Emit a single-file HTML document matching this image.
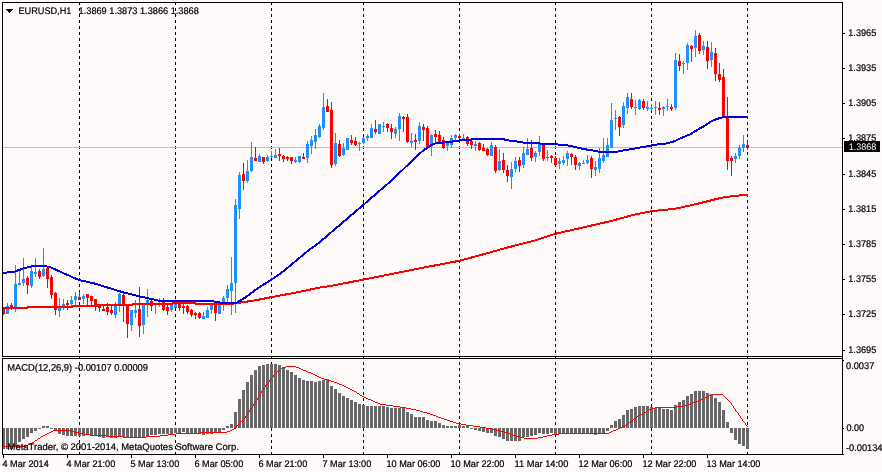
<!DOCTYPE html>
<html lang="en"><head><meta charset="utf-8"><title>EURUSD,H1</title>
<style>html,body{margin:0;padding:0;background:#FFFAFA;overflow:hidden}svg{display:block}text{font-family:"Liberation Sans",sans-serif;font-size:9.6px;fill:#000;stroke:#000;stroke-width:0.22px}</style></head><body>
<svg width="882" height="472" viewBox="0 0 882 472">
<rect x="0" y="0" width="882" height="472" fill="#FFFAFA"/>
<g shape-rendering="crispEdges" stroke="#000" stroke-width="1" stroke-dasharray="3 3">
<line x1="79.5" y1="2" x2="79.5" y2="455"/>
<line x1="175.5" y1="2" x2="175.5" y2="455"/>
<line x1="271.5" y1="2" x2="271.5" y2="455"/>
<line x1="363.5" y1="2" x2="363.5" y2="455"/>
<line x1="459.5" y1="2" x2="459.5" y2="455"/>
<line x1="555.5" y1="2" x2="555.5" y2="455"/>
<line x1="651.5" y1="2" x2="651.5" y2="455"/>
<line x1="747.5" y1="2" x2="747.5" y2="455"/>
</g>
<rect x="3" y="147" width="839" height="1" fill="#C0C0C0" shape-rendering="crispEdges"/>
<g shape-rendering="crispEdges">
<rect x="3" y="307" width="1" height="8" fill="#FF0000"/>
<rect x="2" y="307" width="3" height="7" fill="#FF0000"/>
<rect x="7" y="303" width="1" height="11" fill="#1E90FF"/>
<rect x="6" y="306" width="3" height="8" fill="#1E90FF"/>
<rect x="11" y="303" width="1" height="7" fill="#FF0000"/>
<rect x="10" y="305" width="3" height="4" fill="#FF0000"/>
<rect x="15" y="265" width="1" height="47" fill="#1E90FF"/>
<rect x="14" y="284" width="3" height="23" fill="#1E90FF"/>
<rect x="19" y="270" width="1" height="15" fill="#1E90FF"/>
<rect x="18" y="283" width="3" height="2" fill="#1E90FF"/>
<rect x="23" y="258" width="1" height="28" fill="#1E90FF"/>
<rect x="22" y="279" width="3" height="4" fill="#1E90FF"/>
<rect x="27" y="276" width="1" height="18" fill="#FF0000"/>
<rect x="26" y="278" width="3" height="7" fill="#FF0000"/>
<rect x="31" y="267" width="1" height="21" fill="#1E90FF"/>
<rect x="30" y="271" width="3" height="15" fill="#1E90FF"/>
<rect x="35" y="258" width="1" height="19" fill="#1E90FF"/>
<rect x="34" y="272" width="3" height="2" fill="#1E90FF"/>
<rect x="39" y="269" width="1" height="10" fill="#FF0000"/>
<rect x="38" y="271" width="3" height="6" fill="#FF0000"/>
<rect x="43" y="248" width="1" height="29" fill="#1E90FF"/>
<rect x="42" y="269" width="3" height="7" fill="#1E90FF"/>
<rect x="47" y="268" width="1" height="20" fill="#FF0000"/>
<rect x="46" y="268" width="3" height="11" fill="#FF0000"/>
<rect x="51" y="275" width="1" height="24" fill="#FF0000"/>
<rect x="50" y="277" width="3" height="18" fill="#FF0000"/>
<rect x="55" y="292" width="1" height="23" fill="#FF0000"/>
<rect x="54" y="293" width="3" height="17" fill="#FF0000"/>
<rect x="59" y="298" width="1" height="19" fill="#1E90FF"/>
<rect x="58" y="308" width="3" height="3" fill="#1E90FF"/>
<rect x="63" y="299" width="1" height="11" fill="#1E90FF"/>
<rect x="62" y="304" width="3" height="2" fill="#1E90FF"/>
<rect x="67" y="300" width="1" height="10" fill="#FF0000"/>
<rect x="66" y="303" width="3" height="2" fill="#FF0000"/>
<rect x="71" y="296" width="1" height="10" fill="#1E90FF"/>
<rect x="70" y="300" width="3" height="4" fill="#1E90FF"/>
<rect x="75" y="292" width="1" height="13" fill="#1E90FF"/>
<rect x="74" y="296" width="3" height="4" fill="#1E90FF"/>
<rect x="79" y="292" width="1" height="8" fill="#FF0000"/>
<rect x="78" y="297" width="3" height="3" fill="#FF0000"/>
<rect x="83" y="294" width="1" height="10" fill="#1E90FF"/>
<rect x="82" y="296" width="3" height="3" fill="#1E90FF"/>
<rect x="87" y="294" width="1" height="11" fill="#FF0000"/>
<rect x="86" y="294" width="3" height="4" fill="#FF0000"/>
<rect x="91" y="296" width="1" height="9" fill="#FF0000"/>
<rect x="90" y="296" width="3" height="5" fill="#FF0000"/>
<rect x="95" y="299" width="1" height="12" fill="#FF0000"/>
<rect x="94" y="299" width="3" height="8" fill="#FF0000"/>
<rect x="99" y="305" width="1" height="7" fill="#FF0000"/>
<rect x="98" y="306" width="3" height="2" fill="#FF0000"/>
<rect x="103" y="306" width="1" height="5" fill="#FF0000"/>
<rect x="102" y="309" width="3" height="2" fill="#FF0000"/>
<rect x="107" y="303" width="1" height="12" fill="#FF0000"/>
<rect x="106" y="307" width="3" height="5" fill="#FF0000"/>
<rect x="111" y="306" width="1" height="9" fill="#FF0000"/>
<rect x="110" y="310" width="3" height="3" fill="#FF0000"/>
<rect x="115" y="302" width="1" height="16" fill="#1E90FF"/>
<rect x="114" y="306" width="3" height="9" fill="#1E90FF"/>
<rect x="119" y="293" width="1" height="19" fill="#1E90FF"/>
<rect x="118" y="294" width="3" height="10" fill="#1E90FF"/>
<rect x="123" y="293" width="1" height="29" fill="#FF0000"/>
<rect x="122" y="295" width="3" height="10" fill="#FF0000"/>
<rect x="127" y="305" width="1" height="33" fill="#FF0000"/>
<rect x="126" y="305" width="3" height="19" fill="#FF0000"/>
<rect x="131" y="310" width="1" height="21" fill="#1E90FF"/>
<rect x="130" y="310" width="3" height="15" fill="#1E90FF"/>
<rect x="135" y="300" width="1" height="18" fill="#1E90FF"/>
<rect x="134" y="310" width="3" height="3" fill="#1E90FF"/>
<rect x="139" y="287" width="1" height="50" fill="#FF0000"/>
<rect x="138" y="309" width="3" height="17" fill="#FF0000"/>
<rect x="143" y="305" width="1" height="29" fill="#1E90FF"/>
<rect x="142" y="305" width="3" height="20" fill="#1E90FF"/>
<rect x="147" y="289" width="1" height="28" fill="#1E90FF"/>
<rect x="146" y="300" width="3" height="3" fill="#1E90FF"/>
<rect x="151" y="300" width="1" height="11" fill="#FF0000"/>
<rect x="150" y="301" width="3" height="5" fill="#FF0000"/>
<rect x="155" y="305" width="1" height="9" fill="#1E90FF"/>
<rect x="159" y="298" width="1" height="9" fill="#1E90FF"/>
<rect x="163" y="298" width="1" height="13" fill="#FF0000"/>
<rect x="162" y="302" width="3" height="8" fill="#FF0000"/>
<rect x="167" y="305" width="1" height="10" fill="#FF0000"/>
<rect x="166" y="307" width="3" height="4" fill="#FF0000"/>
<rect x="171" y="305" width="1" height="7" fill="#1E90FF"/>
<rect x="170" y="305" width="3" height="5" fill="#1E90FF"/>
<rect x="175" y="304" width="1" height="4" fill="#1E90FF"/>
<rect x="174" y="304" width="3" height="4" fill="#1E90FF"/>
<rect x="179" y="304" width="1" height="7" fill="#FF0000"/>
<rect x="178" y="304" width="3" height="4" fill="#FF0000"/>
<rect x="183" y="304" width="1" height="10" fill="#FF0000"/>
<rect x="182" y="306" width="3" height="2" fill="#FF0000"/>
<rect x="187" y="305" width="1" height="9" fill="#FF0000"/>
<rect x="186" y="306" width="3" height="6" fill="#FF0000"/>
<rect x="191" y="309" width="1" height="8" fill="#FF0000"/>
<rect x="190" y="310" width="3" height="5" fill="#FF0000"/>
<rect x="195" y="312" width="1" height="7" fill="#FF0000"/>
<rect x="194" y="313" width="3" height="2" fill="#FF0000"/>
<rect x="199" y="312" width="1" height="7" fill="#FF0000"/>
<rect x="198" y="313" width="3" height="5" fill="#FF0000"/>
<rect x="203" y="312" width="1" height="7" fill="#1E90FF"/>
<rect x="202" y="316" width="3" height="3" fill="#1E90FF"/>
<rect x="207" y="307" width="1" height="11" fill="#1E90FF"/>
<rect x="206" y="310" width="3" height="8" fill="#1E90FF"/>
<rect x="211" y="303" width="1" height="11" fill="#1E90FF"/>
<rect x="210" y="305" width="3" height="5" fill="#1E90FF"/>
<rect x="215" y="304" width="1" height="17" fill="#FF0000"/>
<rect x="214" y="304" width="3" height="9" fill="#FF0000"/>
<rect x="219" y="303" width="1" height="11" fill="#1E90FF"/>
<rect x="218" y="305" width="3" height="9" fill="#1E90FF"/>
<rect x="223" y="296" width="1" height="15" fill="#1E90FF"/>
<rect x="222" y="298" width="3" height="4" fill="#1E90FF"/>
<rect x="227" y="285" width="1" height="17" fill="#1E90FF"/>
<rect x="226" y="289" width="3" height="9" fill="#1E90FF"/>
<rect x="231" y="257" width="1" height="58" fill="#1E90FF"/>
<rect x="230" y="283" width="3" height="8" fill="#1E90FF"/>
<rect x="235" y="199" width="1" height="114" fill="#1E90FF"/>
<rect x="234" y="205" width="3" height="78" fill="#1E90FF"/>
<rect x="239" y="172" width="1" height="47" fill="#1E90FF"/>
<rect x="238" y="175" width="3" height="34" fill="#1E90FF"/>
<rect x="243" y="163" width="1" height="27" fill="#FF0000"/>
<rect x="242" y="174" width="3" height="7" fill="#FF0000"/>
<rect x="247" y="160" width="1" height="23" fill="#1E90FF"/>
<rect x="246" y="171" width="3" height="10" fill="#1E90FF"/>
<rect x="251" y="142" width="1" height="30" fill="#1E90FF"/>
<rect x="250" y="157" width="3" height="14" fill="#1E90FF"/>
<rect x="255" y="147" width="1" height="14" fill="#FF0000"/>
<rect x="254" y="158" width="3" height="3" fill="#FF0000"/>
<rect x="259" y="154" width="1" height="8" fill="#1E90FF"/>
<rect x="258" y="156" width="3" height="6" fill="#1E90FF"/>
<rect x="263" y="157" width="1" height="7" fill="#FF0000"/>
<rect x="262" y="157" width="3" height="5" fill="#FF0000"/>
<rect x="267" y="155" width="1" height="7" fill="#1E90FF"/>
<rect x="266" y="157" width="3" height="4" fill="#1E90FF"/>
<rect x="271" y="151" width="1" height="7" fill="#1E90FF"/>
<rect x="270" y="156" width="3" height="1" fill="#1E90FF"/>
<rect x="275" y="149" width="1" height="9" fill="#1E90FF"/>
<rect x="274" y="155" width="3" height="3" fill="#1E90FF"/>
<rect x="279" y="148" width="1" height="13" fill="#FF0000"/>
<rect x="278" y="154" width="3" height="2" fill="#FF0000"/>
<rect x="283" y="155" width="1" height="7" fill="#FF0000"/>
<rect x="282" y="156" width="3" height="3" fill="#FF0000"/>
<rect x="287" y="156" width="1" height="5" fill="#FF0000"/>
<rect x="286" y="157" width="3" height="2" fill="#FF0000"/>
<rect x="291" y="157" width="1" height="7" fill="#FF0000"/>
<rect x="290" y="157" width="3" height="4" fill="#FF0000"/>
<rect x="295" y="157" width="1" height="6" fill="#1E90FF"/>
<rect x="294" y="160" width="3" height="2" fill="#1E90FF"/>
<rect x="299" y="156" width="1" height="7" fill="#1E90FF"/>
<rect x="298" y="156" width="3" height="6" fill="#1E90FF"/>
<rect x="303" y="153" width="1" height="6" fill="#FF0000"/>
<rect x="302" y="157" width="3" height="2" fill="#FF0000"/>
<rect x="307" y="141" width="1" height="22" fill="#1E90FF"/>
<rect x="306" y="144" width="3" height="14" fill="#1E90FF"/>
<rect x="311" y="136" width="1" height="18" fill="#1E90FF"/>
<rect x="310" y="140" width="3" height="6" fill="#1E90FF"/>
<rect x="315" y="129" width="1" height="20" fill="#1E90FF"/>
<rect x="314" y="135" width="3" height="7" fill="#1E90FF"/>
<rect x="319" y="124" width="1" height="14" fill="#1E90FF"/>
<rect x="318" y="126" width="3" height="11" fill="#1E90FF"/>
<rect x="323" y="93" width="1" height="37" fill="#1E90FF"/>
<rect x="322" y="107" width="3" height="21" fill="#1E90FF"/>
<rect x="327" y="99" width="1" height="13" fill="#FF0000"/>
<rect x="326" y="106" width="3" height="6" fill="#FF0000"/>
<rect x="331" y="102" width="1" height="66" fill="#FF0000"/>
<rect x="330" y="110" width="3" height="55" fill="#FF0000"/>
<rect x="335" y="133" width="1" height="33" fill="#1E90FF"/>
<rect x="334" y="143" width="3" height="21" fill="#1E90FF"/>
<rect x="339" y="140" width="1" height="17" fill="#FF0000"/>
<rect x="338" y="144" width="3" height="12" fill="#FF0000"/>
<rect x="343" y="143" width="1" height="13" fill="#1E90FF"/>
<rect x="342" y="148" width="3" height="7" fill="#1E90FF"/>
<rect x="347" y="138" width="1" height="12" fill="#1E90FF"/>
<rect x="346" y="138" width="3" height="12" fill="#1E90FF"/>
<rect x="351" y="135" width="1" height="10" fill="#FF0000"/>
<rect x="350" y="140" width="3" height="3" fill="#FF0000"/>
<rect x="355" y="137" width="1" height="9" fill="#FF0000"/>
<rect x="354" y="141" width="3" height="4" fill="#FF0000"/>
<rect x="359" y="142" width="1" height="9" fill="#1E90FF"/>
<rect x="358" y="143" width="3" height="1" fill="#1E90FF"/>
<rect x="363" y="137" width="1" height="7" fill="#1E90FF"/>
<rect x="362" y="138" width="3" height="5" fill="#1E90FF"/>
<rect x="367" y="134" width="1" height="7" fill="#1E90FF"/>
<rect x="366" y="136" width="3" height="2" fill="#1E90FF"/>
<rect x="371" y="124" width="1" height="14" fill="#1E90FF"/>
<rect x="370" y="128" width="3" height="10" fill="#1E90FF"/>
<rect x="375" y="120" width="1" height="14" fill="#FF0000"/>
<rect x="374" y="129" width="3" height="3" fill="#FF0000"/>
<rect x="379" y="124" width="1" height="10" fill="#1E90FF"/>
<rect x="378" y="124" width="3" height="10" fill="#1E90FF"/>
<rect x="383" y="122" width="1" height="10" fill="#1E90FF"/>
<rect x="382" y="126" width="3" height="1" fill="#1E90FF"/>
<rect x="387" y="123" width="1" height="9" fill="#FF0000"/>
<rect x="386" y="124" width="3" height="4" fill="#FF0000"/>
<rect x="391" y="124" width="1" height="15" fill="#FF0000"/>
<rect x="390" y="128" width="3" height="4" fill="#FF0000"/>
<rect x="395" y="127" width="1" height="11" fill="#1E90FF"/>
<rect x="394" y="129" width="3" height="5" fill="#1E90FF"/>
<rect x="399" y="113" width="1" height="28" fill="#1E90FF"/>
<rect x="398" y="116" width="3" height="13" fill="#1E90FF"/>
<rect x="403" y="116" width="1" height="16" fill="#FF0000"/>
<rect x="402" y="117" width="3" height="2" fill="#FF0000"/>
<rect x="407" y="114" width="1" height="29" fill="#FF0000"/>
<rect x="406" y="117" width="3" height="25" fill="#FF0000"/>
<rect x="411" y="133" width="1" height="14" fill="#1E90FF"/>
<rect x="410" y="141" width="3" height="2" fill="#1E90FF"/>
<rect x="415" y="134" width="1" height="16" fill="#FF0000"/>
<rect x="414" y="140" width="3" height="2" fill="#FF0000"/>
<rect x="419" y="122" width="1" height="22" fill="#1E90FF"/>
<rect x="418" y="126" width="3" height="15" fill="#1E90FF"/>
<rect x="423" y="124" width="1" height="17" fill="#FF0000"/>
<rect x="422" y="127" width="3" height="3" fill="#FF0000"/>
<rect x="427" y="126" width="1" height="22" fill="#FF0000"/>
<rect x="426" y="128" width="3" height="20" fill="#FF0000"/>
<rect x="431" y="134" width="1" height="22" fill="#1E90FF"/>
<rect x="430" y="135" width="3" height="9" fill="#1E90FF"/>
<rect x="435" y="130" width="1" height="12" fill="#FF0000"/>
<rect x="434" y="134" width="3" height="3" fill="#FF0000"/>
<rect x="439" y="131" width="1" height="11" fill="#FF0000"/>
<rect x="438" y="135" width="3" height="7" fill="#FF0000"/>
<rect x="443" y="137" width="1" height="12" fill="#FF0000"/>
<rect x="442" y="140" width="3" height="8" fill="#FF0000"/>
<rect x="447" y="142" width="1" height="9" fill="#1E90FF"/>
<rect x="446" y="143" width="3" height="3" fill="#1E90FF"/>
<rect x="451" y="135" width="1" height="13" fill="#1E90FF"/>
<rect x="450" y="138" width="3" height="7" fill="#1E90FF"/>
<rect x="455" y="134" width="1" height="6" fill="#1E90FF"/>
<rect x="454" y="135" width="3" height="3" fill="#1E90FF"/>
<rect x="459" y="134" width="1" height="6" fill="#FF0000"/>
<rect x="458" y="136" width="3" height="2" fill="#FF0000"/>
<rect x="463" y="134" width="1" height="6" fill="#1E90FF"/>
<rect x="462" y="138" width="3" height="1" fill="#1E90FF"/>
<rect x="467" y="136" width="1" height="10" fill="#FF0000"/>
<rect x="466" y="137" width="3" height="7" fill="#FF0000"/>
<rect x="471" y="141" width="1" height="8" fill="#FF0000"/>
<rect x="470" y="141" width="3" height="4" fill="#FF0000"/>
<rect x="475" y="141" width="1" height="10" fill="#1E90FF"/>
<rect x="474" y="144" width="3" height="2" fill="#1E90FF"/>
<rect x="479" y="142" width="1" height="9" fill="#FF0000"/>
<rect x="478" y="143" width="3" height="7" fill="#FF0000"/>
<rect x="483" y="144" width="1" height="7" fill="#FF0000"/>
<rect x="482" y="148" width="3" height="3" fill="#FF0000"/>
<rect x="487" y="148" width="1" height="8" fill="#FF0000"/>
<rect x="486" y="149" width="3" height="6" fill="#FF0000"/>
<rect x="491" y="142" width="1" height="14" fill="#1E90FF"/>
<rect x="490" y="145" width="3" height="11" fill="#1E90FF"/>
<rect x="495" y="145" width="1" height="28" fill="#FF0000"/>
<rect x="494" y="147" width="3" height="24" fill="#FF0000"/>
<rect x="499" y="149" width="1" height="22" fill="#1E90FF"/>
<rect x="498" y="161" width="3" height="9" fill="#1E90FF"/>
<rect x="503" y="153" width="1" height="20" fill="#FF0000"/>
<rect x="502" y="160" width="3" height="10" fill="#FF0000"/>
<rect x="507" y="165" width="1" height="17" fill="#FF0000"/>
<rect x="506" y="170" width="3" height="6" fill="#FF0000"/>
<rect x="511" y="162" width="1" height="27" fill="#1E90FF"/>
<rect x="510" y="169" width="3" height="8" fill="#1E90FF"/>
<rect x="515" y="157" width="1" height="15" fill="#1E90FF"/>
<rect x="514" y="161" width="3" height="8" fill="#1E90FF"/>
<rect x="519" y="157" width="1" height="15" fill="#FF0000"/>
<rect x="518" y="160" width="3" height="6" fill="#FF0000"/>
<rect x="523" y="147" width="1" height="21" fill="#1E90FF"/>
<rect x="522" y="153" width="3" height="12" fill="#1E90FF"/>
<rect x="527" y="138" width="1" height="17" fill="#1E90FF"/>
<rect x="526" y="149" width="3" height="6" fill="#1E90FF"/>
<rect x="531" y="140" width="1" height="21" fill="#FF0000"/>
<rect x="530" y="148" width="3" height="10" fill="#FF0000"/>
<rect x="535" y="151" width="1" height="11" fill="#1E90FF"/>
<rect x="534" y="153" width="3" height="4" fill="#1E90FF"/>
<rect x="539" y="136" width="1" height="20" fill="#1E90FF"/>
<rect x="538" y="144" width="3" height="8" fill="#1E90FF"/>
<rect x="543" y="144" width="1" height="17" fill="#FF0000"/>
<rect x="542" y="144" width="3" height="15" fill="#FF0000"/>
<rect x="547" y="150" width="1" height="11" fill="#1E90FF"/>
<rect x="546" y="157" width="3" height="1" fill="#1E90FF"/>
<rect x="551" y="155" width="1" height="8" fill="#FF0000"/>
<rect x="550" y="156" width="3" height="2" fill="#FF0000"/>
<rect x="555" y="156" width="1" height="10" fill="#FF0000"/>
<rect x="554" y="158" width="3" height="7" fill="#FF0000"/>
<rect x="559" y="158" width="1" height="11" fill="#1E90FF"/>
<rect x="558" y="161" width="3" height="3" fill="#1E90FF"/>
<rect x="563" y="156" width="1" height="9" fill="#1E90FF"/>
<rect x="562" y="160" width="3" height="3" fill="#1E90FF"/>
<rect x="567" y="151" width="1" height="15" fill="#1E90FF"/>
<rect x="566" y="153" width="3" height="6" fill="#1E90FF"/>
<rect x="571" y="153" width="1" height="12" fill="#FF0000"/>
<rect x="570" y="154" width="3" height="3" fill="#FF0000"/>
<rect x="575" y="155" width="1" height="15" fill="#FF0000"/>
<rect x="574" y="157" width="3" height="8" fill="#FF0000"/>
<rect x="579" y="162" width="1" height="8" fill="#1E90FF"/>
<rect x="578" y="163" width="3" height="3" fill="#1E90FF"/>
<rect x="583" y="160" width="1" height="4" fill="#1E90FF"/>
<rect x="582" y="163" width="3" height="1" fill="#1E90FF"/>
<rect x="587" y="155" width="1" height="9" fill="#1E90FF"/>
<rect x="586" y="160" width="3" height="3" fill="#1E90FF"/>
<rect x="591" y="156" width="1" height="22" fill="#FF0000"/>
<rect x="590" y="158" width="3" height="11" fill="#FF0000"/>
<rect x="595" y="161" width="1" height="15" fill="#1E90FF"/>
<rect x="594" y="167" width="3" height="3" fill="#1E90FF"/>
<rect x="599" y="148" width="1" height="25" fill="#1E90FF"/>
<rect x="598" y="158" width="3" height="11" fill="#1E90FF"/>
<rect x="603" y="138" width="1" height="25" fill="#1E90FF"/>
<rect x="602" y="155" width="3" height="6" fill="#1E90FF"/>
<rect x="607" y="138" width="1" height="19" fill="#1E90FF"/>
<rect x="606" y="145" width="3" height="12" fill="#1E90FF"/>
<rect x="611" y="103" width="1" height="45" fill="#1E90FF"/>
<rect x="610" y="120" width="3" height="28" fill="#1E90FF"/>
<rect x="615" y="110" width="1" height="20" fill="#1E90FF"/>
<rect x="614" y="118" width="3" height="1" fill="#1E90FF"/>
<rect x="619" y="116" width="1" height="20" fill="#FF0000"/>
<rect x="618" y="117" width="3" height="10" fill="#FF0000"/>
<rect x="623" y="102" width="1" height="26" fill="#1E90FF"/>
<rect x="622" y="106" width="3" height="19" fill="#1E90FF"/>
<rect x="627" y="93" width="1" height="21" fill="#1E90FF"/>
<rect x="626" y="97" width="3" height="11" fill="#1E90FF"/>
<rect x="631" y="93" width="1" height="16" fill="#FF0000"/>
<rect x="630" y="99" width="3" height="8" fill="#FF0000"/>
<rect x="635" y="100" width="1" height="15" fill="#1E90FF"/>
<rect x="634" y="107" width="3" height="1" fill="#1E90FF"/>
<rect x="639" y="99" width="1" height="11" fill="#1E90FF"/>
<rect x="638" y="100" width="3" height="9" fill="#1E90FF"/>
<rect x="643" y="99" width="1" height="11" fill="#FF0000"/>
<rect x="642" y="101" width="3" height="7" fill="#FF0000"/>
<rect x="647" y="101" width="1" height="10" fill="#1E90FF"/>
<rect x="646" y="107" width="3" height="2" fill="#1E90FF"/>
<rect x="651" y="104" width="1" height="7" fill="#1E90FF"/>
<rect x="650" y="108" width="3" height="1" fill="#1E90FF"/>
<rect x="655" y="101" width="1" height="14" fill="#1E90FF"/>
<rect x="654" y="107" width="3" height="1" fill="#1E90FF"/>
<rect x="659" y="102" width="1" height="13" fill="#FF0000"/>
<rect x="658" y="108" width="3" height="2" fill="#FF0000"/>
<rect x="663" y="106" width="1" height="10" fill="#1E90FF"/>
<rect x="662" y="107" width="3" height="2" fill="#1E90FF"/>
<rect x="667" y="99" width="1" height="12" fill="#1E90FF"/>
<rect x="666" y="106" width="3" height="1" fill="#1E90FF"/>
<rect x="671" y="104" width="1" height="7" fill="#FF0000"/>
<rect x="670" y="107" width="3" height="2" fill="#FF0000"/>
<rect x="675" y="53" width="1" height="57" fill="#1E90FF"/>
<rect x="674" y="60" width="3" height="48" fill="#1E90FF"/>
<rect x="679" y="54" width="1" height="17" fill="#FF0000"/>
<rect x="678" y="61" width="3" height="5" fill="#FF0000"/>
<rect x="683" y="61" width="1" height="13" fill="#1E90FF"/>
<rect x="682" y="63" width="3" height="1" fill="#1E90FF"/>
<rect x="687" y="43" width="1" height="27" fill="#1E90FF"/>
<rect x="686" y="45" width="3" height="18" fill="#1E90FF"/>
<rect x="691" y="45" width="1" height="17" fill="#FF0000"/>
<rect x="690" y="46" width="3" height="3" fill="#FF0000"/>
<rect x="695" y="30" width="1" height="27" fill="#1E90FF"/>
<rect x="694" y="36" width="3" height="12" fill="#1E90FF"/>
<rect x="699" y="33" width="1" height="21" fill="#FF0000"/>
<rect x="698" y="35" width="3" height="16" fill="#FF0000"/>
<rect x="703" y="41" width="1" height="14" fill="#1E90FF"/>
<rect x="702" y="46" width="3" height="4" fill="#1E90FF"/>
<rect x="707" y="41" width="1" height="28" fill="#FF0000"/>
<rect x="706" y="47" width="3" height="14" fill="#FF0000"/>
<rect x="711" y="42" width="1" height="25" fill="#1E90FF"/>
<rect x="710" y="52" width="3" height="8" fill="#1E90FF"/>
<rect x="715" y="48" width="1" height="33" fill="#FF0000"/>
<rect x="714" y="53" width="3" height="21" fill="#FF0000"/>
<rect x="719" y="63" width="1" height="19" fill="#FF0000"/>
<rect x="718" y="74" width="3" height="6" fill="#FF0000"/>
<rect x="723" y="69" width="1" height="49" fill="#FF0000"/>
<rect x="722" y="77" width="3" height="40" fill="#FF0000"/>
<rect x="727" y="97" width="1" height="73" fill="#FF0000"/>
<rect x="726" y="117" width="3" height="44" fill="#FF0000"/>
<rect x="731" y="156" width="1" height="20" fill="#FF0000"/>
<rect x="730" y="158" width="3" height="3" fill="#FF0000"/>
<rect x="735" y="153" width="1" height="10" fill="#1E90FF"/>
<rect x="734" y="156" width="3" height="3" fill="#1E90FF"/>
<rect x="739" y="145" width="1" height="14" fill="#1E90FF"/>
<rect x="738" y="148" width="3" height="8" fill="#1E90FF"/>
<rect x="743" y="135" width="1" height="17" fill="#1E90FF"/>
<rect x="742" y="144" width="3" height="4" fill="#1E90FF"/>
<rect x="747" y="141" width="1" height="9" fill="#FF0000"/>
<rect x="746" y="145" width="3" height="3" fill="#FF0000"/>
</g>
<g shape-rendering="crispEdges" fill="#696969">
<rect x="2" y="428" width="3" height="21"/>
<rect x="6" y="428" width="3" height="21"/>
<rect x="10" y="428" width="3" height="21"/>
<rect x="14" y="428" width="3" height="19"/>
<rect x="18" y="428" width="3" height="14"/>
<rect x="22" y="428" width="3" height="11"/>
<rect x="26" y="428" width="3" height="9"/>
<rect x="30" y="428" width="3" height="5"/>
<rect x="34" y="428" width="3" height="3"/>
<rect x="38" y="428" width="3" height="1"/>
<rect x="42" y="426" width="3" height="2"/>
<rect x="46" y="426" width="3" height="2"/>
<rect x="50" y="428" width="3" height="1"/>
<rect x="54" y="428" width="3" height="3"/>
<rect x="58" y="428" width="3" height="6"/>
<rect x="62" y="428" width="3" height="7"/>
<rect x="66" y="428" width="3" height="8"/>
<rect x="70" y="428" width="3" height="8"/>
<rect x="74" y="428" width="3" height="8"/>
<rect x="78" y="428" width="3" height="8"/>
<rect x="82" y="428" width="3" height="8"/>
<rect x="86" y="428" width="3" height="7"/>
<rect x="90" y="428" width="3" height="8"/>
<rect x="94" y="428" width="3" height="8"/>
<rect x="98" y="428" width="3" height="9"/>
<rect x="102" y="428" width="3" height="10"/>
<rect x="106" y="428" width="3" height="9"/>
<rect x="110" y="428" width="3" height="10"/>
<rect x="114" y="428" width="3" height="10"/>
<rect x="118" y="428" width="3" height="9"/>
<rect x="122" y="428" width="3" height="9"/>
<rect x="126" y="428" width="3" height="10"/>
<rect x="130" y="428" width="3" height="10"/>
<rect x="134" y="428" width="3" height="10"/>
<rect x="138" y="428" width="3" height="10"/>
<rect x="142" y="428" width="3" height="10"/>
<rect x="146" y="428" width="3" height="8"/>
<rect x="150" y="428" width="3" height="7"/>
<rect x="154" y="428" width="3" height="7"/>
<rect x="158" y="428" width="3" height="6"/>
<rect x="162" y="428" width="3" height="6"/>
<rect x="166" y="428" width="3" height="6"/>
<rect x="170" y="428" width="3" height="6"/>
<rect x="174" y="428" width="3" height="5"/>
<rect x="178" y="428" width="3" height="5"/>
<rect x="182" y="428" width="3" height="4"/>
<rect x="186" y="428" width="3" height="5"/>
<rect x="190" y="428" width="3" height="5"/>
<rect x="194" y="428" width="3" height="6"/>
<rect x="198" y="428" width="3" height="6"/>
<rect x="202" y="428" width="3" height="7"/>
<rect x="206" y="428" width="3" height="6"/>
<rect x="210" y="428" width="3" height="6"/>
<rect x="214" y="428" width="3" height="5"/>
<rect x="218" y="428" width="3" height="4"/>
<rect x="222" y="428" width="3" height="2"/>
<rect x="226" y="426" width="3" height="2"/>
<rect x="230" y="424" width="3" height="4"/>
<rect x="234" y="412" width="3" height="16"/>
<rect x="238" y="399" width="3" height="29"/>
<rect x="242" y="390" width="3" height="38"/>
<rect x="246" y="382" width="3" height="46"/>
<rect x="250" y="375" width="3" height="53"/>
<rect x="254" y="370" width="3" height="58"/>
<rect x="258" y="366" width="3" height="62"/>
<rect x="262" y="365" width="3" height="63"/>
<rect x="266" y="364" width="3" height="64"/>
<rect x="270" y="364" width="3" height="64"/>
<rect x="274" y="364" width="3" height="64"/>
<rect x="278" y="365" width="3" height="63"/>
<rect x="282" y="367" width="3" height="61"/>
<rect x="286" y="370" width="3" height="58"/>
<rect x="290" y="372" width="3" height="56"/>
<rect x="294" y="375" width="3" height="53"/>
<rect x="298" y="378" width="3" height="50"/>
<rect x="302" y="380" width="3" height="48"/>
<rect x="306" y="381" width="3" height="47"/>
<rect x="310" y="381" width="3" height="47"/>
<rect x="314" y="382" width="3" height="46"/>
<rect x="318" y="381" width="3" height="47"/>
<rect x="322" y="380" width="3" height="48"/>
<rect x="326" y="379" width="3" height="49"/>
<rect x="330" y="386" width="3" height="42"/>
<rect x="334" y="389" width="3" height="39"/>
<rect x="338" y="393" width="3" height="35"/>
<rect x="342" y="396" width="3" height="32"/>
<rect x="346" y="398" width="3" height="30"/>
<rect x="350" y="400" width="3" height="28"/>
<rect x="354" y="402" width="3" height="26"/>
<rect x="358" y="404" width="3" height="24"/>
<rect x="362" y="405" width="3" height="23"/>
<rect x="366" y="406" width="3" height="22"/>
<rect x="370" y="406" width="3" height="22"/>
<rect x="374" y="406" width="3" height="22"/>
<rect x="378" y="406" width="3" height="22"/>
<rect x="382" y="406" width="3" height="22"/>
<rect x="386" y="407" width="3" height="21"/>
<rect x="390" y="408" width="3" height="20"/>
<rect x="394" y="408" width="3" height="20"/>
<rect x="398" y="408" width="3" height="20"/>
<rect x="402" y="408" width="3" height="20"/>
<rect x="406" y="412" width="3" height="16"/>
<rect x="410" y="414" width="3" height="14"/>
<rect x="414" y="417" width="3" height="11"/>
<rect x="418" y="417" width="3" height="11"/>
<rect x="422" y="417" width="3" height="11"/>
<rect x="426" y="420" width="3" height="8"/>
<rect x="430" y="421" width="3" height="7"/>
<rect x="434" y="421" width="3" height="7"/>
<rect x="438" y="423" width="3" height="5"/>
<rect x="442" y="425" width="3" height="3"/>
<rect x="446" y="426" width="3" height="2"/>
<rect x="450" y="426" width="3" height="2"/>
<rect x="454" y="426" width="3" height="2"/>
<rect x="458" y="425" width="3" height="3"/>
<rect x="462" y="426" width="3" height="2"/>
<rect x="466" y="426" width="3" height="2"/>
<rect x="470" y="428" width="3" height="1"/>
<rect x="474" y="428" width="3" height="2"/>
<rect x="478" y="428" width="3" height="3"/>
<rect x="482" y="428" width="3" height="4"/>
<rect x="486" y="428" width="3" height="5"/>
<rect x="490" y="428" width="3" height="5"/>
<rect x="494" y="428" width="3" height="8"/>
<rect x="498" y="428" width="3" height="9"/>
<rect x="502" y="428" width="3" height="11"/>
<rect x="506" y="428" width="3" height="13"/>
<rect x="510" y="428" width="3" height="13"/>
<rect x="514" y="428" width="3" height="13"/>
<rect x="518" y="428" width="3" height="13"/>
<rect x="522" y="428" width="3" height="9"/>
<rect x="526" y="428" width="3" height="9"/>
<rect x="530" y="428" width="3" height="8"/>
<rect x="534" y="428" width="3" height="7"/>
<rect x="538" y="428" width="3" height="5"/>
<rect x="542" y="428" width="3" height="6"/>
<rect x="546" y="428" width="3" height="6"/>
<rect x="550" y="428" width="3" height="5"/>
<rect x="554" y="428" width="3" height="6"/>
<rect x="558" y="428" width="3" height="6"/>
<rect x="562" y="428" width="3" height="6"/>
<rect x="566" y="428" width="3" height="5"/>
<rect x="570" y="428" width="3" height="5"/>
<rect x="574" y="428" width="3" height="5"/>
<rect x="578" y="428" width="3" height="6"/>
<rect x="582" y="428" width="3" height="6"/>
<rect x="586" y="428" width="3" height="6"/>
<rect x="590" y="428" width="3" height="6"/>
<rect x="594" y="428" width="3" height="7"/>
<rect x="598" y="428" width="3" height="6"/>
<rect x="602" y="428" width="3" height="5"/>
<rect x="606" y="428" width="3" height="3"/>
<rect x="610" y="425" width="3" height="3"/>
<rect x="614" y="421" width="3" height="7"/>
<rect x="618" y="419" width="3" height="9"/>
<rect x="622" y="415" width="3" height="13"/>
<rect x="626" y="410" width="3" height="18"/>
<rect x="630" y="409" width="3" height="19"/>
<rect x="634" y="407" width="3" height="21"/>
<rect x="638" y="406" width="3" height="22"/>
<rect x="642" y="406" width="3" height="22"/>
<rect x="646" y="406" width="3" height="22"/>
<rect x="650" y="407" width="3" height="21"/>
<rect x="654" y="408" width="3" height="20"/>
<rect x="658" y="408" width="3" height="20"/>
<rect x="662" y="409" width="3" height="19"/>
<rect x="666" y="409" width="3" height="19"/>
<rect x="670" y="410" width="3" height="18"/>
<rect x="674" y="405" width="3" height="23"/>
<rect x="678" y="402" width="3" height="26"/>
<rect x="682" y="400" width="3" height="28"/>
<rect x="686" y="396" width="3" height="32"/>
<rect x="690" y="394" width="3" height="34"/>
<rect x="694" y="391" width="3" height="37"/>
<rect x="698" y="391" width="3" height="37"/>
<rect x="702" y="391" width="3" height="37"/>
<rect x="706" y="393" width="3" height="35"/>
<rect x="710" y="394" width="3" height="34"/>
<rect x="714" y="398" width="3" height="30"/>
<rect x="718" y="402" width="3" height="26"/>
<rect x="722" y="410" width="3" height="18"/>
<rect x="726" y="422" width="3" height="6"/>
<rect x="730" y="428" width="3" height="5"/>
<rect x="734" y="428" width="3" height="12"/>
<rect x="738" y="428" width="3" height="16"/>
<rect x="742" y="428" width="3" height="18"/>
<rect x="746" y="428" width="3" height="21"/>
</g>
<g shape-rendering="crispEdges" fill="#FF0000"><rect x="3" y="446" width="23" height="1"/><rect x="26" y="445" width="2" height="1"/><rect x="28" y="444" width="2" height="1"/><rect x="30" y="443" width="2" height="1"/><rect x="32" y="442" width="2" height="1"/><rect x="34" y="441" width="1" height="1"/><rect x="35" y="440" width="2" height="1"/><rect x="37" y="439" width="1" height="1"/><rect x="38" y="438" width="2" height="1"/><rect x="40" y="437" width="1" height="1"/><rect x="41" y="436" width="2" height="1"/><rect x="43" y="435" width="2" height="1"/><rect x="45" y="434" width="2" height="1"/><rect x="47" y="433" width="2" height="1"/><rect x="49" y="432" width="2" height="1"/><rect x="51" y="431" width="2" height="1"/><rect x="53" y="430" width="17" height="1"/><rect x="70" y="431" width="4" height="1"/><rect x="74" y="432" width="5" height="1"/><rect x="79" y="433" width="5" height="1"/><rect x="84" y="434" width="6" height="1"/><rect x="90" y="435" width="16" height="1"/><rect x="106" y="436" width="17" height="1"/><rect x="123" y="437" width="23" height="1"/><rect x="146" y="436" width="14" height="1"/><rect x="160" y="435" width="8" height="1"/><rect x="168" y="434" width="8" height="1"/><rect x="176" y="433" width="24" height="1"/><rect x="200" y="432" width="27" height="1"/><rect x="227" y="431" width="3" height="1"/><rect x="230" y="430" width="2" height="1"/><rect x="232" y="429" width="2" height="1"/><rect x="234" y="428" width="1" height="1"/><rect x="235" y="427" width="1" height="2"/><rect x="236" y="426" width="1" height="1"/><rect x="237" y="425" width="1" height="1"/><rect x="238" y="424" width="1" height="1"/><rect x="239" y="423" width="1" height="1"/><rect x="240" y="422" width="1" height="1"/><rect x="241" y="421" width="1" height="1"/><rect x="242" y="420" width="1" height="1"/><rect x="243" y="419" width="1" height="1"/><rect x="244" y="418" width="1" height="1"/><rect x="245" y="416" width="1" height="2"/><rect x="246" y="415" width="1" height="1"/><rect x="247" y="413" width="1" height="2"/><rect x="248" y="412" width="1" height="1"/><rect x="249" y="410" width="1" height="2"/><rect x="250" y="409" width="1" height="1"/><rect x="251" y="407" width="1" height="2"/><rect x="252" y="406" width="1" height="1"/><rect x="253" y="404" width="1" height="2"/><rect x="254" y="403" width="1" height="1"/><rect x="255" y="401" width="1" height="2"/><rect x="256" y="400" width="1" height="1"/><rect x="257" y="398" width="1" height="2"/><rect x="258" y="396" width="1" height="2"/><rect x="259" y="395" width="1" height="1"/><rect x="260" y="393" width="1" height="2"/><rect x="261" y="391" width="1" height="2"/><rect x="262" y="390" width="1" height="1"/><rect x="263" y="388" width="1" height="2"/><rect x="264" y="387" width="1" height="1"/><rect x="265" y="385" width="1" height="2"/><rect x="266" y="384" width="1" height="1"/><rect x="267" y="383" width="1" height="1"/><rect x="268" y="382" width="1" height="1"/><rect x="269" y="380" width="1" height="2"/><rect x="270" y="379" width="1" height="1"/><rect x="271" y="378" width="1" height="1"/><rect x="272" y="377" width="1" height="1"/><rect x="273" y="375" width="1" height="2"/><rect x="274" y="374" width="1" height="1"/><rect x="275" y="373" width="1" height="1"/><rect x="276" y="372" width="1" height="1"/><rect x="277" y="371" width="2" height="1"/><rect x="279" y="370" width="1" height="1"/><rect x="280" y="369" width="1" height="1"/><rect x="281" y="368" width="1" height="1"/><rect x="282" y="367" width="4" height="1"/><rect x="286" y="366" width="10" height="1"/><rect x="296" y="367" width="3" height="1"/><rect x="299" y="368" width="2" height="1"/><rect x="301" y="369" width="2" height="1"/><rect x="303" y="370" width="3" height="1"/><rect x="306" y="371" width="2" height="1"/><rect x="308" y="372" width="3" height="1"/><rect x="311" y="373" width="2" height="1"/><rect x="313" y="374" width="2" height="1"/><rect x="315" y="375" width="2" height="1"/><rect x="317" y="376" width="2" height="1"/><rect x="319" y="377" width="2" height="1"/><rect x="321" y="378" width="3" height="1"/><rect x="324" y="379" width="4" height="1"/><rect x="328" y="380" width="3" height="1"/><rect x="331" y="381" width="3" height="1"/><rect x="334" y="382" width="3" height="1"/><rect x="337" y="383" width="2" height="1"/><rect x="339" y="384" width="3" height="1"/><rect x="342" y="385" width="2" height="1"/><rect x="344" y="386" width="2" height="1"/><rect x="346" y="387" width="2" height="1"/><rect x="348" y="388" width="2" height="1"/><rect x="350" y="389" width="2" height="1"/><rect x="352" y="390" width="2" height="1"/><rect x="354" y="391" width="2" height="1"/><rect x="356" y="392" width="1" height="1"/><rect x="357" y="393" width="2" height="1"/><rect x="359" y="394" width="1" height="1"/><rect x="360" y="395" width="2" height="1"/><rect x="362" y="396" width="2" height="1"/><rect x="364" y="397" width="2" height="1"/><rect x="366" y="398" width="2" height="1"/><rect x="368" y="399" width="3" height="1"/><rect x="371" y="400" width="2" height="1"/><rect x="373" y="401" width="2" height="1"/><rect x="375" y="402" width="3" height="1"/><rect x="378" y="403" width="2" height="1"/><rect x="380" y="404" width="6" height="1"/><rect x="386" y="405" width="7" height="1"/><rect x="393" y="406" width="7" height="1"/><rect x="400" y="407" width="6" height="1"/><rect x="406" y="408" width="5" height="1"/><rect x="411" y="409" width="5" height="1"/><rect x="416" y="410" width="4" height="1"/><rect x="420" y="411" width="3" height="1"/><rect x="423" y="412" width="4" height="1"/><rect x="427" y="413" width="3" height="1"/><rect x="430" y="414" width="3" height="1"/><rect x="433" y="415" width="3" height="1"/><rect x="436" y="416" width="2" height="1"/><rect x="438" y="417" width="3" height="1"/><rect x="441" y="418" width="3" height="1"/><rect x="444" y="419" width="3" height="1"/><rect x="447" y="420" width="3" height="1"/><rect x="450" y="421" width="3" height="1"/><rect x="453" y="422" width="3" height="1"/><rect x="456" y="423" width="5" height="1"/><rect x="461" y="424" width="5" height="1"/><rect x="466" y="425" width="7" height="1"/><rect x="473" y="426" width="7" height="1"/><rect x="480" y="427" width="6" height="1"/><rect x="486" y="428" width="6" height="1"/><rect x="492" y="429" width="4" height="1"/><rect x="496" y="430" width="4" height="1"/><rect x="500" y="431" width="4" height="1"/><rect x="504" y="432" width="3" height="1"/><rect x="507" y="433" width="3" height="1"/><rect x="510" y="434" width="3" height="1"/><rect x="513" y="435" width="3" height="1"/><rect x="516" y="436" width="4" height="1"/><rect x="520" y="437" width="4" height="1"/><rect x="524" y="438" width="14" height="1"/><rect x="538" y="437" width="5" height="1"/><rect x="543" y="436" width="4" height="1"/><rect x="547" y="435" width="5" height="1"/><rect x="552" y="434" width="7" height="1"/><rect x="559" y="433" width="50" height="1"/><rect x="609" y="432" width="2" height="1"/><rect x="611" y="431" width="2" height="1"/><rect x="613" y="430" width="3" height="1"/><rect x="616" y="429" width="2" height="1"/><rect x="618" y="428" width="2" height="1"/><rect x="620" y="427" width="3" height="1"/><rect x="623" y="426" width="2" height="1"/><rect x="625" y="425" width="1" height="1"/><rect x="626" y="424" width="2" height="1"/><rect x="628" y="423" width="1" height="1"/><rect x="629" y="422" width="1" height="1"/><rect x="630" y="421" width="2" height="1"/><rect x="632" y="420" width="1" height="1"/><rect x="633" y="419" width="1" height="1"/><rect x="634" y="418" width="2" height="1"/><rect x="636" y="417" width="1" height="1"/><rect x="637" y="416" width="1" height="1"/><rect x="638" y="415" width="2" height="1"/><rect x="640" y="414" width="2" height="1"/><rect x="642" y="413" width="2" height="1"/><rect x="644" y="412" width="2" height="1"/><rect x="646" y="411" width="1" height="1"/><rect x="647" y="410" width="2" height="1"/><rect x="649" y="409" width="3" height="1"/><rect x="652" y="408" width="3" height="1"/><rect x="655" y="407" width="22" height="1"/><rect x="677" y="406" width="6" height="1"/><rect x="683" y="405" width="5" height="1"/><rect x="688" y="404" width="3" height="1"/><rect x="691" y="403" width="2" height="1"/><rect x="693" y="402" width="3" height="1"/><rect x="696" y="401" width="2" height="1"/><rect x="698" y="400" width="3" height="1"/><rect x="701" y="399" width="2" height="1"/><rect x="703" y="398" width="2" height="1"/><rect x="705" y="397" width="2" height="1"/><rect x="707" y="396" width="2" height="1"/><rect x="709" y="395" width="3" height="1"/><rect x="712" y="394" width="11" height="1"/><rect x="723" y="395" width="1" height="1"/><rect x="724" y="396" width="1" height="1"/><rect x="725" y="397" width="1" height="1"/><rect x="726" y="398" width="1" height="1"/><rect x="727" y="399" width="1" height="1"/><rect x="728" y="400" width="1" height="1"/><rect x="729" y="401" width="1" height="1"/><rect x="730" y="402" width="1" height="1"/><rect x="731" y="403" width="1" height="2"/><rect x="732" y="405" width="1" height="1"/><rect x="733" y="406" width="1" height="2"/><rect x="734" y="408" width="1" height="1"/><rect x="735" y="409" width="1" height="2"/><rect x="736" y="411" width="1" height="1"/><rect x="737" y="412" width="1" height="1"/><rect x="738" y="413" width="1" height="2"/><rect x="739" y="415" width="1" height="1"/><rect x="740" y="416" width="1" height="2"/><rect x="741" y="418" width="1" height="1"/><rect x="742" y="419" width="1" height="2"/><rect x="743" y="421" width="1" height="1"/><rect x="744" y="422" width="1" height="1"/><rect x="745" y="423" width="1" height="2"/><rect x="746" y="425" width="1" height="1"/><rect x="747" y="426" width="1" height="1"/></g>
<g shape-rendering="crispEdges" fill="#FF0000"><rect x="3" y="307" width="24" height="2"/><rect x="27" y="306" width="1" height="3"/><rect x="28" y="306" width="44" height="2"/><rect x="72" y="305" width="1" height="3"/><rect x="73" y="305" width="24" height="2"/><rect x="97" y="304" width="1" height="3"/><rect x="98" y="304" width="34" height="2"/><rect x="132" y="303" width="1" height="3"/><rect x="133" y="303" width="39" height="2"/><rect x="172" y="302" width="1" height="3"/><rect x="173" y="302" width="22" height="2"/><rect x="195" y="302" width="1" height="3"/><rect x="196" y="303" width="38" height="2"/><rect x="234" y="302" width="7" height="2"/><rect x="241" y="301" width="6" height="2"/><rect x="247" y="300" width="1" height="3"/><rect x="248" y="300" width="6" height="2"/><rect x="254" y="299" width="5" height="2"/><rect x="259" y="298" width="1" height="3"/><rect x="260" y="298" width="4" height="2"/><rect x="264" y="297" width="1" height="3"/><rect x="265" y="297" width="4" height="2"/><rect x="269" y="296" width="1" height="3"/><rect x="270" y="296" width="5" height="2"/><rect x="275" y="295" width="5" height="2"/><rect x="280" y="294" width="5" height="2"/><rect x="285" y="293" width="1" height="3"/><rect x="286" y="293" width="5" height="2"/><rect x="291" y="292" width="5" height="2"/><rect x="296" y="291" width="5" height="2"/><rect x="301" y="290" width="5" height="2"/><rect x="306" y="289" width="4" height="2"/><rect x="310" y="288" width="1" height="3"/><rect x="311" y="288" width="4" height="2"/><rect x="315" y="287" width="5" height="2"/><rect x="320" y="286" width="7" height="2"/><rect x="327" y="285" width="6" height="2"/><rect x="333" y="284" width="5" height="2"/><rect x="338" y="283" width="5" height="2"/><rect x="343" y="282" width="5" height="2"/><rect x="348" y="281" width="1" height="3"/><rect x="349" y="281" width="4" height="2"/><rect x="353" y="280" width="1" height="3"/><rect x="354" y="280" width="5" height="2"/><rect x="359" y="279" width="5" height="2"/><rect x="364" y="278" width="5" height="2"/><rect x="369" y="277" width="5" height="2"/><rect x="374" y="276" width="5" height="2"/><rect x="379" y="275" width="5" height="2"/><rect x="384" y="274" width="5" height="2"/><rect x="389" y="273" width="5" height="2"/><rect x="394" y="272" width="5" height="2"/><rect x="399" y="271" width="5" height="2"/><rect x="404" y="270" width="5" height="2"/><rect x="409" y="269" width="5" height="2"/><rect x="414" y="268" width="5" height="2"/><rect x="419" y="267" width="5" height="2"/><rect x="424" y="266" width="5" height="2"/><rect x="429" y="265" width="5" height="2"/><rect x="434" y="264" width="1" height="3"/><rect x="435" y="264" width="5" height="2"/><rect x="440" y="263" width="5" height="2"/><rect x="445" y="262" width="5" height="2"/><rect x="450" y="261" width="5" height="2"/><rect x="455" y="260" width="1" height="3"/><rect x="456" y="260" width="4" height="2"/><rect x="460" y="259" width="1" height="3"/><rect x="461" y="259" width="3" height="2"/><rect x="464" y="258" width="4" height="2"/><rect x="468" y="257" width="3" height="2"/><rect x="471" y="256" width="1" height="3"/><rect x="472" y="256" width="3" height="2"/><rect x="475" y="255" width="4" height="2"/><rect x="479" y="254" width="3" height="2"/><rect x="482" y="253" width="1" height="3"/><rect x="483" y="253" width="3" height="2"/><rect x="486" y="252" width="4" height="2"/><rect x="490" y="251" width="3" height="2"/><rect x="493" y="250" width="4" height="2"/><rect x="497" y="249" width="3" height="2"/><rect x="500" y="248" width="4" height="2"/><rect x="504" y="247" width="3" height="2"/><rect x="507" y="246" width="1" height="3"/><rect x="508" y="246" width="3" height="2"/><rect x="511" y="245" width="1" height="3"/><rect x="512" y="245" width="3" height="2"/><rect x="515" y="244" width="4" height="2"/><rect x="519" y="243" width="4" height="2"/><rect x="523" y="242" width="4" height="2"/><rect x="527" y="241" width="4" height="2"/><rect x="531" y="240" width="4" height="2"/><rect x="535" y="239" width="3" height="2"/><rect x="538" y="238" width="3" height="2"/><rect x="541" y="237" width="3" height="2"/><rect x="544" y="236" width="3" height="2"/><rect x="547" y="235" width="3" height="2"/><rect x="550" y="234" width="3" height="2"/><rect x="553" y="233" width="3" height="2"/><rect x="556" y="232" width="1" height="3"/><rect x="557" y="232" width="4" height="2"/><rect x="561" y="231" width="4" height="2"/><rect x="565" y="230" width="5" height="2"/><rect x="570" y="229" width="4" height="2"/><rect x="574" y="228" width="4" height="2"/><rect x="578" y="227" width="1" height="3"/><rect x="579" y="227" width="4" height="2"/><rect x="583" y="226" width="4" height="2"/><rect x="587" y="225" width="4" height="2"/><rect x="591" y="224" width="1" height="3"/><rect x="592" y="224" width="4" height="2"/><rect x="596" y="223" width="4" height="2"/><rect x="600" y="222" width="4" height="2"/><rect x="604" y="221" width="1" height="3"/><rect x="605" y="221" width="4" height="2"/><rect x="609" y="220" width="4" height="2"/><rect x="613" y="219" width="3" height="2"/><rect x="616" y="218" width="1" height="3"/><rect x="617" y="218" width="3" height="2"/><rect x="620" y="217" width="4" height="2"/><rect x="624" y="216" width="3" height="2"/><rect x="627" y="215" width="1" height="3"/><rect x="628" y="215" width="3" height="2"/><rect x="631" y="214" width="4" height="2"/><rect x="635" y="213" width="5" height="2"/><rect x="640" y="212" width="5" height="2"/><rect x="645" y="211" width="5" height="2"/><rect x="650" y="210" width="8" height="2"/><rect x="658" y="209" width="10" height="2"/><rect x="668" y="208" width="8" height="2"/><rect x="676" y="207" width="5" height="2"/><rect x="681" y="206" width="4" height="2"/><rect x="685" y="205" width="5" height="2"/><rect x="690" y="204" width="4" height="2"/><rect x="694" y="203" width="4" height="2"/><rect x="698" y="202" width="1" height="3"/><rect x="699" y="202" width="3" height="2"/><rect x="702" y="201" width="1" height="3"/><rect x="703" y="201" width="3" height="2"/><rect x="706" y="200" width="1" height="3"/><rect x="707" y="200" width="3" height="2"/><rect x="710" y="199" width="1" height="3"/><rect x="711" y="199" width="3" height="2"/><rect x="714" y="198" width="1" height="3"/><rect x="715" y="198" width="3" height="2"/><rect x="718" y="197" width="1" height="3"/><rect x="719" y="197" width="4" height="2"/><rect x="723" y="196" width="7" height="2"/><rect x="730" y="195" width="9" height="2"/><rect x="739" y="194" width="9" height="2"/></g>
<g shape-rendering="crispEdges" fill="#0000E0"><rect x="3" y="272" width="4" height="2"/><rect x="7" y="271" width="8" height="2"/><rect x="15" y="270" width="2" height="2"/><rect x="17" y="269" width="1" height="3"/><rect x="18" y="269" width="2" height="2"/><rect x="20" y="268" width="1" height="3"/><rect x="21" y="268" width="2" height="2"/><rect x="23" y="267" width="4" height="2"/><rect x="27" y="266" width="4" height="2"/><rect x="31" y="265" width="16" height="2"/><rect x="47" y="266" width="4" height="2"/><rect x="51" y="267" width="2" height="2"/><rect x="53" y="268" width="2" height="2"/><rect x="55" y="268" width="1" height="3"/><rect x="56" y="269" width="1" height="2"/><rect x="57" y="269" width="1" height="3"/><rect x="58" y="270" width="2" height="2"/><rect x="60" y="271" width="2" height="2"/><rect x="62" y="272" width="2" height="2"/><rect x="64" y="273" width="2" height="2"/><rect x="66" y="273" width="1" height="3"/><rect x="67" y="274" width="2" height="2"/><rect x="69" y="275" width="2" height="2"/><rect x="71" y="276" width="2" height="2"/><rect x="73" y="277" width="2" height="2"/><rect x="75" y="277" width="1" height="3"/><rect x="76" y="278" width="2" height="2"/><rect x="78" y="279" width="3" height="2"/><rect x="81" y="280" width="5" height="2"/><rect x="86" y="281" width="4" height="2"/><rect x="90" y="282" width="4" height="2"/><rect x="94" y="282" width="1" height="3"/><rect x="95" y="283" width="3" height="2"/><rect x="98" y="284" width="3" height="2"/><rect x="101" y="285" width="3" height="2"/><rect x="104" y="286" width="3" height="2"/><rect x="107" y="286" width="1" height="3"/><rect x="108" y="287" width="3" height="2"/><rect x="111" y="288" width="3" height="2"/><rect x="114" y="289" width="3" height="2"/><rect x="117" y="290" width="3" height="2"/><rect x="120" y="290" width="1" height="3"/><rect x="121" y="291" width="3" height="2"/><rect x="124" y="292" width="4" height="2"/><rect x="128" y="293" width="4" height="2"/><rect x="132" y="294" width="4" height="2"/><rect x="136" y="295" width="4" height="2"/><rect x="140" y="296" width="5" height="2"/><rect x="145" y="297" width="4" height="2"/><rect x="149" y="298" width="5" height="2"/><rect x="154" y="299" width="4" height="2"/><rect x="158" y="300" width="56" height="2"/><rect x="214" y="301" width="6" height="2"/><rect x="220" y="302" width="17" height="2"/><rect x="237" y="301" width="1" height="2"/><rect x="238" y="300" width="1" height="3"/><rect x="239" y="300" width="1" height="2"/><rect x="240" y="299" width="1" height="3"/><rect x="241" y="299" width="1" height="2"/><rect x="242" y="298" width="1" height="2"/><rect x="243" y="297" width="1" height="3"/><rect x="244" y="297" width="1" height="2"/><rect x="245" y="296" width="1" height="3"/><rect x="246" y="295" width="1" height="3"/><rect x="247" y="295" width="1" height="2"/><rect x="248" y="294" width="1" height="2"/><rect x="249" y="293" width="1" height="3"/><rect x="250" y="292" width="1" height="3"/><rect x="251" y="292" width="1" height="2"/><rect x="252" y="291" width="1" height="2"/><rect x="253" y="290" width="1" height="3"/><rect x="254" y="289" width="1" height="3"/><rect x="255" y="289" width="1" height="2"/><rect x="256" y="288" width="1" height="2"/><rect x="257" y="287" width="1" height="3"/><rect x="258" y="287" width="1" height="2"/><rect x="259" y="286" width="1" height="2"/><rect x="260" y="285" width="1" height="3"/><rect x="261" y="285" width="1" height="2"/><rect x="262" y="284" width="1" height="2"/><rect x="263" y="283" width="1" height="3"/><rect x="264" y="283" width="1" height="2"/><rect x="265" y="282" width="1" height="3"/><rect x="266" y="282" width="1" height="2"/><rect x="267" y="281" width="1" height="2"/><rect x="268" y="280" width="1" height="3"/><rect x="269" y="280" width="1" height="2"/><rect x="270" y="279" width="1" height="2"/><rect x="271" y="278" width="1" height="3"/><rect x="272" y="278" width="1" height="2"/><rect x="273" y="277" width="1" height="2"/><rect x="274" y="276" width="1" height="3"/><rect x="275" y="276" width="1" height="2"/><rect x="276" y="275" width="1" height="2"/><rect x="277" y="274" width="1" height="3"/><rect x="278" y="274" width="1" height="2"/><rect x="279" y="273" width="1" height="2"/><rect x="280" y="272" width="1" height="3"/><rect x="281" y="271" width="1" height="3"/><rect x="282" y="271" width="1" height="2"/><rect x="283" y="270" width="1" height="2"/><rect x="284" y="269" width="1" height="3"/><rect x="285" y="268" width="1" height="3"/><rect x="286" y="267" width="1" height="3"/><rect x="287" y="267" width="1" height="2"/><rect x="288" y="266" width="1" height="2"/><rect x="289" y="265" width="1" height="2"/><rect x="290" y="264" width="1" height="3"/><rect x="291" y="263" width="1" height="3"/><rect x="292" y="262" width="1" height="3"/><rect x="293" y="262" width="1" height="2"/><rect x="294" y="261" width="1" height="2"/><rect x="295" y="260" width="1" height="2"/><rect x="296" y="259" width="1" height="3"/><rect x="297" y="258" width="1" height="3"/><rect x="298" y="257" width="1" height="3"/><rect x="299" y="257" width="1" height="2"/><rect x="300" y="256" width="1" height="2"/><rect x="301" y="255" width="1" height="2"/><rect x="302" y="254" width="1" height="3"/><rect x="303" y="253" width="1" height="3"/><rect x="304" y="252" width="1" height="3"/><rect x="305" y="252" width="1" height="2"/><rect x="306" y="251" width="1" height="2"/><rect x="307" y="250" width="1" height="2"/><rect x="308" y="249" width="1" height="3"/><rect x="309" y="248" width="1" height="3"/><rect x="310" y="248" width="1" height="2"/><rect x="311" y="247" width="1" height="2"/><rect x="312" y="246" width="1" height="3"/><rect x="313" y="246" width="1" height="2"/><rect x="314" y="245" width="1" height="2"/><rect x="315" y="244" width="1" height="3"/><rect x="316" y="243" width="1" height="3"/><rect x="317" y="243" width="1" height="2"/><rect x="318" y="242" width="1" height="2"/><rect x="319" y="241" width="1" height="3"/><rect x="320" y="240" width="1" height="3"/><rect x="321" y="239" width="1" height="3"/><rect x="322" y="238" width="1" height="3"/><rect x="323" y="238" width="1" height="2"/><rect x="324" y="237" width="1" height="2"/><rect x="325" y="236" width="1" height="3"/><rect x="326" y="235" width="1" height="3"/><rect x="327" y="234" width="1" height="3"/><rect x="328" y="233" width="1" height="3"/><rect x="329" y="232" width="1" height="3"/><rect x="330" y="232" width="1" height="2"/><rect x="331" y="231" width="1" height="2"/><rect x="332" y="230" width="1" height="2"/><rect x="333" y="229" width="1" height="3"/><rect x="334" y="228" width="1" height="3"/><rect x="335" y="227" width="1" height="3"/><rect x="336" y="226" width="1" height="3"/><rect x="337" y="226" width="1" height="2"/><rect x="338" y="225" width="1" height="2"/><rect x="339" y="224" width="1" height="3"/><rect x="340" y="223" width="1" height="3"/><rect x="341" y="222" width="1" height="3"/><rect x="342" y="221" width="1" height="3"/><rect x="343" y="220" width="1" height="3"/><rect x="344" y="220" width="1" height="2"/><rect x="345" y="219" width="1" height="2"/><rect x="346" y="218" width="1" height="3"/><rect x="347" y="217" width="1" height="3"/><rect x="348" y="216" width="1" height="3"/><rect x="349" y="215" width="1" height="3"/><rect x="350" y="214" width="1" height="3"/><rect x="351" y="214" width="1" height="2"/><rect x="352" y="213" width="1" height="2"/><rect x="353" y="212" width="1" height="3"/><rect x="354" y="211" width="1" height="3"/><rect x="355" y="210" width="1" height="3"/><rect x="356" y="209" width="1" height="3"/><rect x="357" y="209" width="1" height="2"/><rect x="358" y="208" width="1" height="2"/><rect x="359" y="207" width="1" height="2"/><rect x="360" y="206" width="1" height="3"/><rect x="361" y="205" width="1" height="3"/><rect x="362" y="204" width="1" height="3"/><rect x="363" y="203" width="1" height="3"/><rect x="364" y="203" width="1" height="2"/><rect x="365" y="202" width="1" height="2"/><rect x="366" y="201" width="1" height="2"/><rect x="367" y="200" width="1" height="3"/><rect x="368" y="199" width="1" height="3"/><rect x="369" y="198" width="1" height="3"/><rect x="370" y="197" width="1" height="3"/><rect x="371" y="196" width="1" height="3"/><rect x="372" y="196" width="1" height="2"/><rect x="373" y="195" width="1" height="2"/><rect x="374" y="194" width="1" height="3"/><rect x="375" y="193" width="1" height="3"/><rect x="376" y="192" width="1" height="3"/><rect x="377" y="191" width="1" height="3"/><rect x="378" y="190" width="1" height="3"/><rect x="379" y="190" width="1" height="2"/><rect x="380" y="189" width="1" height="2"/><rect x="381" y="188" width="1" height="2"/><rect x="382" y="187" width="1" height="3"/><rect x="383" y="186" width="1" height="3"/><rect x="384" y="185" width="1" height="3"/><rect x="385" y="184" width="1" height="3"/><rect x="386" y="184" width="1" height="2"/><rect x="387" y="183" width="1" height="2"/><rect x="388" y="182" width="1" height="2"/><rect x="389" y="181" width="1" height="3"/><rect x="390" y="180" width="1" height="3"/><rect x="391" y="179" width="1" height="3"/><rect x="392" y="178" width="1" height="3"/><rect x="393" y="177" width="1" height="3"/><rect x="394" y="176" width="1" height="3"/><rect x="395" y="175" width="1" height="3"/><rect x="396" y="174" width="1" height="3"/><rect x="397" y="173" width="1" height="3"/><rect x="398" y="172" width="1" height="3"/><rect x="399" y="171" width="1" height="3"/><rect x="400" y="170" width="1" height="3"/><rect x="401" y="170" width="1" height="2"/><rect x="402" y="169" width="1" height="2"/><rect x="403" y="168" width="1" height="2"/><rect x="404" y="167" width="1" height="2"/><rect x="405" y="166" width="1" height="2"/><rect x="406" y="165" width="1" height="2"/><rect x="407" y="164" width="1" height="3"/><rect x="408" y="163" width="1" height="3"/><rect x="409" y="162" width="1" height="3"/><rect x="410" y="161" width="1" height="3"/><rect x="411" y="160" width="1" height="3"/><rect x="412" y="159" width="1" height="3"/><rect x="413" y="158" width="1" height="3"/><rect x="414" y="157" width="1" height="3"/><rect x="415" y="156" width="1" height="3"/><rect x="416" y="155" width="1" height="3"/><rect x="417" y="154" width="1" height="3"/><rect x="418" y="153" width="1" height="3"/><rect x="419" y="152" width="1" height="3"/><rect x="420" y="152" width="1" height="2"/><rect x="421" y="151" width="1" height="2"/><rect x="422" y="150" width="1" height="2"/><rect x="423" y="149" width="1" height="3"/><rect x="424" y="148" width="1" height="3"/><rect x="425" y="148" width="1" height="2"/><rect x="426" y="147" width="1" height="3"/><rect x="427" y="146" width="1" height="3"/><rect x="428" y="146" width="1" height="2"/><rect x="429" y="145" width="1" height="3"/><rect x="430" y="144" width="1" height="3"/><rect x="431" y="144" width="1" height="2"/><rect x="432" y="143" width="1" height="3"/><rect x="433" y="143" width="2" height="2"/><rect x="435" y="142" width="8" height="2"/><rect x="443" y="141" width="1" height="3"/><rect x="444" y="141" width="8" height="2"/><rect x="452" y="140" width="1" height="3"/><rect x="453" y="140" width="6" height="2"/><rect x="459" y="139" width="1" height="3"/><rect x="460" y="139" width="11" height="2"/><rect x="471" y="138" width="1" height="3"/><rect x="472" y="138" width="32" height="2"/><rect x="504" y="138" width="1" height="3"/><rect x="505" y="139" width="4" height="2"/><rect x="509" y="140" width="8" height="2"/><rect x="517" y="141" width="6" height="2"/><rect x="523" y="142" width="17" height="2"/><rect x="540" y="143" width="18" height="2"/><rect x="558" y="144" width="10" height="2"/><rect x="568" y="145" width="5" height="2"/><rect x="573" y="146" width="4" height="2"/><rect x="577" y="147" width="4" height="2"/><rect x="581" y="147" width="1" height="3"/><rect x="582" y="148" width="4" height="2"/><rect x="586" y="148" width="1" height="3"/><rect x="587" y="149" width="6" height="2"/><rect x="593" y="150" width="5" height="2"/><rect x="598" y="151" width="20" height="2"/><rect x="618" y="150" width="5" height="2"/><rect x="623" y="149" width="6" height="2"/><rect x="629" y="148" width="6" height="2"/><rect x="635" y="147" width="5" height="2"/><rect x="640" y="146" width="6" height="2"/><rect x="646" y="145" width="5" height="2"/><rect x="651" y="144" width="6" height="2"/><rect x="657" y="143" width="9" height="2"/><rect x="666" y="142" width="4" height="2"/><rect x="670" y="141" width="3" height="2"/><rect x="673" y="140" width="1" height="3"/><rect x="674" y="140" width="2" height="2"/><rect x="676" y="139" width="2" height="2"/><rect x="678" y="138" width="2" height="2"/><rect x="680" y="137" width="2" height="2"/><rect x="682" y="136" width="1" height="3"/><rect x="683" y="136" width="2" height="2"/><rect x="685" y="135" width="2" height="2"/><rect x="687" y="134" width="3" height="2"/><rect x="690" y="133" width="1" height="2"/><rect x="691" y="132" width="1" height="3"/><rect x="692" y="132" width="1" height="2"/><rect x="693" y="131" width="1" height="2"/><rect x="694" y="130" width="1" height="3"/><rect x="695" y="130" width="1" height="2"/><rect x="696" y="129" width="1" height="3"/><rect x="697" y="129" width="1" height="2"/><rect x="698" y="128" width="1" height="2"/><rect x="699" y="127" width="1" height="3"/><rect x="700" y="127" width="1" height="2"/><rect x="701" y="126" width="1" height="3"/><rect x="702" y="126" width="1" height="2"/><rect x="703" y="125" width="1" height="3"/><rect x="704" y="125" width="1" height="2"/><rect x="705" y="124" width="1" height="2"/><rect x="706" y="123" width="1" height="3"/><rect x="707" y="123" width="1" height="2"/><rect x="708" y="122" width="1" height="2"/><rect x="709" y="121" width="1" height="3"/><rect x="710" y="121" width="1" height="2"/><rect x="711" y="120" width="2" height="2"/><rect x="713" y="119" width="2" height="2"/><rect x="715" y="118" width="1" height="3"/><rect x="716" y="118" width="2" height="2"/><rect x="718" y="117" width="1" height="3"/><rect x="719" y="117" width="3" height="2"/><rect x="722" y="116" width="26" height="2"/></g>
<g shape-rendering="crispEdges" fill="#000">
<rect x="2" y="2" width="841" height="1"/>
<rect x="2" y="2" width="1" height="355"/>
<rect x="2" y="356" width="841" height="1"/>
<rect x="2" y="358" width="841" height="1"/>
<rect x="2" y="358" width="1" height="97"/>
<rect x="2" y="454" width="841" height="1"/>
<rect x="842" y="2" width="1" height="453"/>
<rect x="843" y="33" width="2" height="1"/>
<rect x="843" y="68" width="2" height="1"/>
<rect x="843" y="103" width="2" height="1"/>
<rect x="843" y="138" width="2" height="1"/>
<rect x="843" y="174" width="2" height="1"/>
<rect x="843" y="209" width="2" height="1"/>
<rect x="843" y="244" width="2" height="1"/>
<rect x="843" y="279" width="2" height="1"/>
<rect x="843" y="314" width="2" height="1"/>
<rect x="843" y="350" width="2" height="1"/>
<rect x="843" y="360" width="1" height="1"/>
<rect x="843" y="428" width="1" height="1"/>
<rect x="3" y="455" width="1" height="3"/>
<rect x="67" y="455" width="1" height="3"/>
<rect x="131" y="455" width="1" height="3"/>
<rect x="195" y="455" width="1" height="3"/>
<rect x="259" y="455" width="1" height="3"/>
<rect x="323" y="455" width="1" height="3"/>
<rect x="387" y="455" width="1" height="3"/>
<rect x="451" y="455" width="1" height="3"/>
<rect x="515" y="455" width="1" height="3"/>
<rect x="579" y="455" width="1" height="3"/>
<rect x="643" y="455" width="1" height="3"/>
<rect x="707" y="455" width="1" height="3"/>
<rect x="843" y="454" width="1" height="1"/>
<rect x="844" y="141" width="36" height="11"/>
<rect x="6" y="9" width="7" height="1"/><rect x="7" y="10" width="5" height="1"/><rect x="8" y="11" width="3" height="1"/><rect x="9" y="12" width="1" height="1"/>
</g>
<text transform="translate(18.40,14.00) rotate(0.0300)" textLength="53.00" lengthAdjust="spacingAndGlyphs">EURUSD,H1</text>
<text transform="translate(78.60,14.00) rotate(0.0300)" textLength="120.20" lengthAdjust="spacingAndGlyphs">1.3869 1.3873 1.3866 1.3868</text>
<text transform="translate(848.30,36.00) rotate(0.0300)" textLength="27.90" lengthAdjust="spacingAndGlyphs">1.3965</text>
<text transform="translate(848.30,71.00) rotate(0.0300)" textLength="27.90" lengthAdjust="spacingAndGlyphs">1.3935</text>
<text transform="translate(848.30,106.00) rotate(0.0300)" textLength="27.90" lengthAdjust="spacingAndGlyphs">1.3905</text>
<text transform="translate(848.30,141.00) rotate(0.0300)" textLength="27.90" lengthAdjust="spacingAndGlyphs">1.3875</text>
<text transform="translate(848.30,177.00) rotate(0.0300)" textLength="27.90" lengthAdjust="spacingAndGlyphs">1.3845</text>
<text transform="translate(848.30,212.00) rotate(0.0300)" textLength="27.90" lengthAdjust="spacingAndGlyphs">1.3815</text>
<text transform="translate(848.30,247.00) rotate(0.0300)" textLength="27.90" lengthAdjust="spacingAndGlyphs">1.3785</text>
<text transform="translate(848.30,282.00) rotate(0.0300)" textLength="27.90" lengthAdjust="spacingAndGlyphs">1.3755</text>
<text transform="translate(848.30,317.00) rotate(0.0300)" textLength="27.90" lengthAdjust="spacingAndGlyphs">1.3725</text>
<text transform="translate(848.30,353.00) rotate(0.0300)" textLength="27.90" lengthAdjust="spacingAndGlyphs">1.3695</text>
<text transform="translate(848.80,150.00) rotate(0.0300)" textLength="27.50" lengthAdjust="spacingAndGlyphs" style="fill:#fff;stroke:none">1.3868</text>
<text transform="translate(846.00,369.00) rotate(0.0300)" textLength="28.30" lengthAdjust="spacingAndGlyphs">0.0037</text>
<text transform="translate(846.40,431.00) rotate(0.0300)" textLength="17.60" lengthAdjust="spacingAndGlyphs">0.00</text>
<text transform="translate(846.00,451.00) rotate(0.0300)" textLength="36.50" lengthAdjust="spacingAndGlyphs">-0.00134</text>
<text transform="translate(7.30,370.75) rotate(0.0300)" textLength="140.70" lengthAdjust="spacingAndGlyphs">MACD(12,26,9) -0.00107 0.00009</text>
<text transform="translate(7.50,450.00) rotate(0.0300)" textLength="231.30" lengthAdjust="spacingAndGlyphs">MetaTrader, © 2001-2014, MetaQuotes Software Corp.</text>
<text transform="translate(2.40,467.00) rotate(0.0300)" textLength="46.40" lengthAdjust="spacingAndGlyphs">4 Mar 2014</text>
<text transform="translate(66.50,467.00) rotate(0.0300)" textLength="48.75" lengthAdjust="spacingAndGlyphs">4 Mar 21:00</text>
<text transform="translate(130.50,467.00) rotate(0.0300)" textLength="48.75" lengthAdjust="spacingAndGlyphs">5 Mar 13:00</text>
<text transform="translate(194.50,467.00) rotate(0.0300)" textLength="48.75" lengthAdjust="spacingAndGlyphs">6 Mar 05:00</text>
<text transform="translate(258.50,467.00) rotate(0.0300)" textLength="48.75" lengthAdjust="spacingAndGlyphs">6 Mar 21:00</text>
<text transform="translate(322.50,467.00) rotate(0.0300)" textLength="48.75" lengthAdjust="spacingAndGlyphs">7 Mar 13:00</text>
<text transform="translate(386.50,467.00) rotate(0.0300)" textLength="53.90" lengthAdjust="spacingAndGlyphs">10 Mar 06:00</text>
<text transform="translate(450.50,467.00) rotate(0.0300)" textLength="53.90" lengthAdjust="spacingAndGlyphs">10 Mar 22:00</text>
<text transform="translate(514.50,467.00) rotate(0.0300)" textLength="53.90" lengthAdjust="spacingAndGlyphs">11 Mar 14:00</text>
<text transform="translate(578.50,467.00) rotate(0.0300)" textLength="53.90" lengthAdjust="spacingAndGlyphs">12 Mar 06:00</text>
<text transform="translate(642.50,467.00) rotate(0.0300)" textLength="53.90" lengthAdjust="spacingAndGlyphs">12 Mar 22:00</text>
<text transform="translate(706.50,467.00) rotate(0.0300)" textLength="53.90" lengthAdjust="spacingAndGlyphs">13 Mar 14:00</text>
</svg></body></html>
